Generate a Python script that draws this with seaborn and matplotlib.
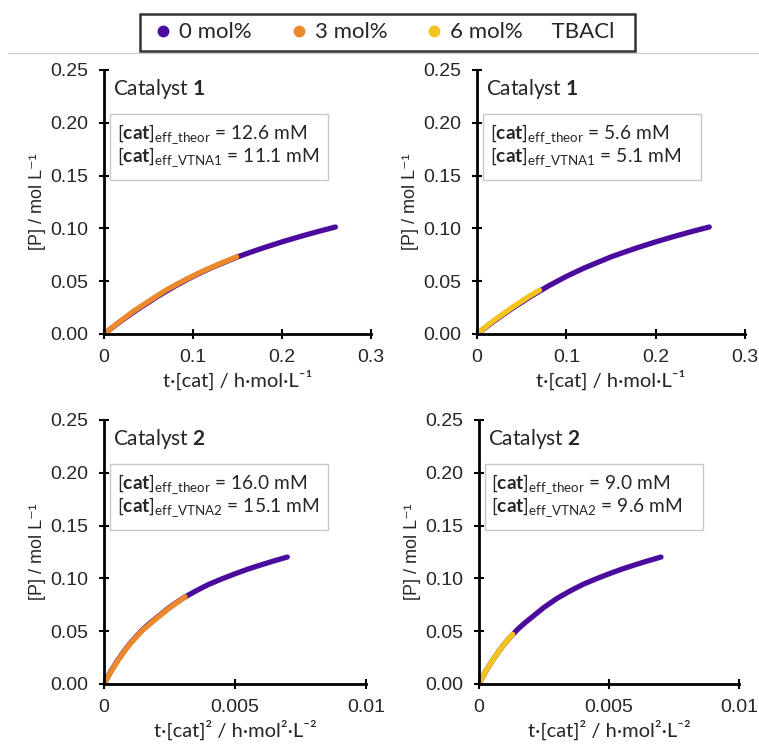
import matplotlib

matplotlib.use("Agg")
import matplotlib.pyplot as plt
import pandas as pd
import seaborn as sns
from matplotlib.lines import Line2D
from matplotlib.patches import Rectangle

# catalyst 1, plotted against t[cat]
c1_x_0 = [0, 0.01, 0.02, 0.03, 0.04, 0.05, 0.06, 0.07, 0.08, 0.09, 0.1, 0.11, 0.12, 0.13,
          0.14, 0.15, 0.165, 0.18, 0.2, 0.22, 0.24, 0.26]
c1_y_0 = [0, 0.0065, 0.0128, 0.0188, 0.0246, 0.030, 0.0355, 0.0405, 0.0455, 0.050, 0.0545,
          0.0585, 0.0625, 0.066, 0.0695, 0.073, 0.0775, 0.0818, 0.0872, 0.0922, 0.0969, 0.1013]
c1_x_3 = [0, 0.0143, 0.033, 0.052, 0.07, 0.089, 0.108, 0.127, 0.149]
c1_y_3 = [0, 0.0096, 0.0215, 0.032, 0.0417, 0.0503, 0.0583, 0.0654, 0.0731]
c1_x_6 = [0, 0.01, 0.02, 0.03, 0.04, 0.05, 0.06, 0.07]
c1_y_6 = [0, 0.007, 0.0135, 0.0195, 0.0255, 0.031, 0.0365, 0.0415]

# catalyst 2, plotted against t[cat]^2
c2_x_0 = [0, 0.00025, 0.0005, 0.00075, 0.001, 0.00125, 0.0015, 0.00175, 0.002, 0.0025,
          0.003, 0.0035, 0.004, 0.0045, 0.005, 0.0055, 0.006, 0.0065, 0.007]
c2_y_0 = [0, 0.0115, 0.0215, 0.0305, 0.0385, 0.0455, 0.052, 0.0575, 0.0625, 0.0725,
          0.081, 0.088, 0.0943, 0.0995, 0.1043, 0.1088, 0.1128, 0.1166, 0.1202]
c2_x_3 = [0, 0.00025, 0.0005, 0.00075, 0.001, 0.00125, 0.0015, 0.002, 0.0025, 0.0031]
c2_y_3 = [0, 0.011, 0.021, 0.030, 0.038, 0.045, 0.0515, 0.062, 0.072, 0.0825]
c2_x_6 = [0, 0.00025, 0.0005, 0.00075, 0.001, 0.0013]
c2_y_6 = [0, 0.0115, 0.0215, 0.0305, 0.0385, 0.047]

legend_labels = ["0 mol%", "3 mol%", "6 mol%"]
colors = {"0 mol%": "#4b0c9e", "3 mol%": "#ec8a2b", "6 mol%": "#f4c31c"}

panels = [
    # rect, series, xmax, xticks, tick labels, xlabel, catalyst, theor, vtna, vtna name
    ([0.137, 0.5517, 0.3518, 0.3544], [(c1_x_0, c1_y_0, "0 mol%"), (c1_x_3, c1_y_3, "3 mol%")],
     0.3, [0, 0.1, 0.2, 0.3], ["0", "0.1", "0.2", "0.3"], "t·[cat] / h·mol·L⁻¹", "1", "12.6", "11.1", "VTNA1"),
    ([0.6285, 0.5517, 0.353, 0.3544], [(c1_x_0, c1_y_0, "0 mol%"), (c1_x_6, c1_y_6, "6 mol%")],
     0.3, [0, 0.1, 0.2, 0.3], ["0", "0.1", "0.2", "0.3"], "t·[cat] / h·mol·L⁻¹", "1", "5.6", "5.1", "VTNA1"),
    ([0.137, 0.0819, 0.345, 0.3544], [(c2_x_0, c2_y_0, "0 mol%"), (c2_x_3, c2_y_3, "3 mol%")],
     0.01, [0, 0.005, 0.01], ["0", "0.005", "0.01"], "t·[cat]² / h·mol²·L⁻²", "2", "16.0", "15.1", "VTNA2"),
    ([0.631, 0.0819, 0.3426, 0.3544], [(c2_x_0, c2_y_0, "0 mol%"), (c2_x_6, c2_y_6, "6 mol%")],
     0.01, [0, 0.005, 0.01], ["0", "0.005", "0.01"], "t·[cat]² / h·mol²·L⁻²", "2", "9.0", "9.6", "VTNA2"),
]

sns.set_style("ticks")
plt.rcParams["font.family"] = ["Lato", "DejaVu Sans"]
plt.rcParams["mathtext.fontset"] = "custom"
plt.rcParams["mathtext.rm"] = "Lato"
plt.rcParams["mathtext.bf"] = "Lato:bold"
plt.rcParams["mathtext.it"] = "Lato:italic"

W, H = 759, 745
fig = plt.figure(figsize=(W / 100, H / 100), dpi=100)
tick_font = ["Liberation Sans", "DejaVu Sans"]

for rect, series, xmax, xticks, xticklabels, xlabel, cat, theor, vtna, vname in panels:
    ax = fig.add_axes(rect)
    for xs, ys, lab in series:
        df = pd.DataFrame({"x": xs, "y": ys})
        sns.lineplot(data=df, x="x", y="y", color=colors[lab], linewidth=3.8,
                     solid_capstyle="round", solid_joinstyle="round", ax=ax)
    ax.set_xlim(0, xmax)
    ax.set_ylim(0, 0.25)
    ax.set_xticks(xticks)
    ax.set_xticklabels(xticklabels, family=tick_font, fontsize=14)
    ax.set_yticks([0, 0.05, 0.10, 0.15, 0.20, 0.25])
    ax.set_yticklabels(["0.00", "0.05", "0.10", "0.15", "0.20", "0.25"],
                       family=tick_font, fontsize=14)
    ax.tick_params(direction="inout", length=7, width=1.5, color="black")
    ax.tick_params(axis="x", pad=7)
    ax.tick_params(axis="y", pad=8)
    ax.set_xlabel(xlabel, fontsize=14.5, labelpad=3)
    ax.set_ylabel("[P] / mol L⁻¹", family=tick_font, fontsize=13, labelpad=3)
    for s in ["top", "right"]:
        ax.spines[s].set_visible(False)
    for s in ["left", "bottom"]:
        ax.spines[s].set_linewidth(2)
        ax.spines[s].set_color("black")

    ax.text(0.035, 0.975, "Catalyst $\\mathbf{" + cat + "}$", transform=ax.transAxes,
            fontsize=15, va="top", ha="left")

    # grey framed box with the effective catalyst concentrations
    aw = rect[2] * W
    ax.add_patch(Rectangle((6.0 / aw, 0.583), 218 / aw, 0.25, transform=ax.transAxes,
                           facecolor="white", edgecolor="#c8c8c8", linewidth=1, zorder=4))
    ax.text(0.048, 0.738, "[$\\mathbf{cat}$]$_{\\mathrm{eff\\_theor}}$ = " + theor + " mM",
            transform=ax.transAxes, fontsize=13.8, va="baseline", ha="left", zorder=5)
    ax.text(0.048, 0.652, "[$\\mathbf{cat}$]$_{\\mathrm{eff\\_" + vname + "}}$ = " + vtna + " mM",
            transform=ax.transAxes, fontsize=13.8, va="baseline", ha="left", zorder=5)

handles = [Line2D([], [], marker="o", linestyle="none", markersize=7.5,
                  markerfacecolor=colors[l], markeredgecolor=colors[l]) for l in legend_labels]
labels = legend_labels[:2] + [legend_labels[2] + "     TBACl  "]
leg = fig.legend(handles, labels, loc="center", bbox_to_anchor=(0.5105, 0.9564),
                 ncol=3, frameon=True, fontsize=16, handletextpad=0.08, columnspacing=1.45,
                 handlelength=1.3, borderpad=0.38, borderaxespad=0, fancybox=False)
leg.get_frame().set_edgecolor("black")
leg.get_frame().set_linewidth(1.8)

fig.add_artist(Line2D([0.01, 1.0], [0.9293, 0.9293], color="#cccccc", linewidth=1,
                      transform=fig.transFigure, zorder=0))

fig.savefig("out.png", dpi=100, facecolor="white")
